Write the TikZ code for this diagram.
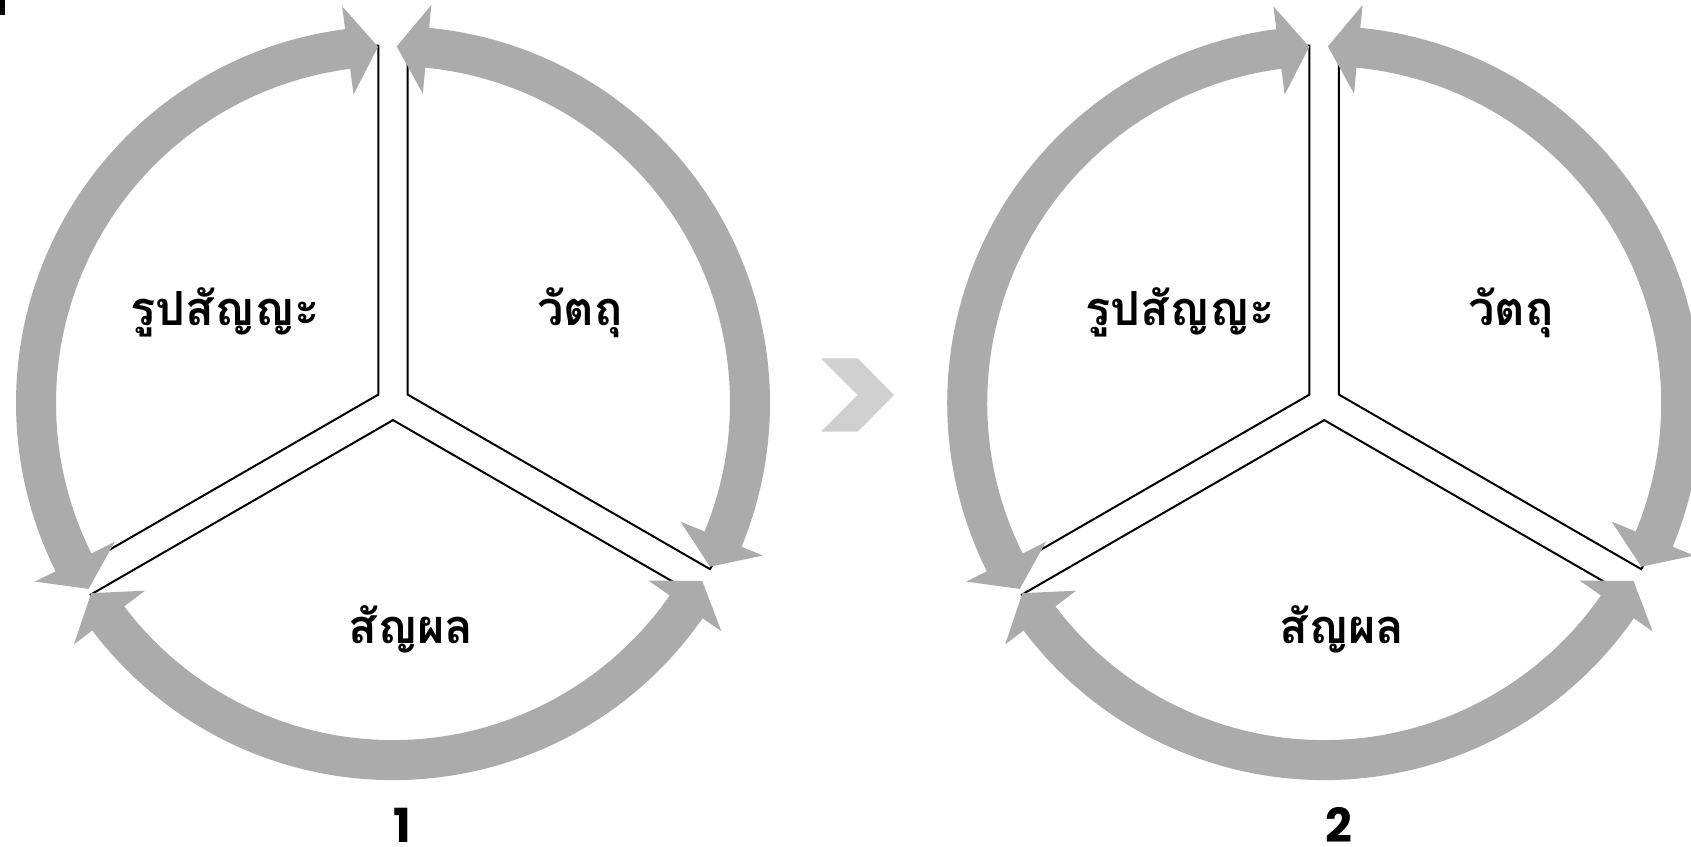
\documentclass[tikz,border=0pt]{standalone}
\usepackage{fontspec}
\newfontfamily\thaifont[Script=Thai]{Loma}
\newfontfamily\digitfont{Poppins}
\definecolor{arrowgray}{RGB}{171,171,171}
\definecolor{chevgray}{RGB}{208,208,208}
\tikzset{
  sectorline/.style={draw=black, line width=2pt, line join=miter, fill=white},
  cyclearrow/.style={fill=arrowgray},
  labeltxt/.style={font=\thaifont\bfseries\fontsize{47}{56}\selectfont, anchor=base, inner sep=0pt},
  numtxt/.style={font=\digitfont\bfseries\fontsize{47}{56}\selectfont, anchor=base, inner sep=0pt},
}
% double-headed circular arrow about the current origin: tip angles #1 < #2
\newcommand\cycarrow[2]{%
  \pgfmathsetmacro\aS{#1+4.9}\pgfmathsetmacro\aE{#2-4.9}%
  \fill[cyclearrow] (\aS:377pt) arc[start angle=\aS,end angle=\aE,radius=377pt]
    -- (\aE:400pt) -- (#2:356.7pt) -- (\aE:311pt) -- (\aE:337pt)
    arc[start angle=\aE,end angle=\aS,radius=337pt]
    -- (\aS:311pt) -- (#1:356.7pt) -- (\aS:400pt) -- cycle;}
% whole cycle diagram: #1 centre x, #2 name prefix, #3 number, #4 x offset of first label, #5 x offset of number
\newcommand\cycdiagram[5]{%
  \begin{scope}[shift={(#1,-403.1)}]
    \coordinate (#2c) at (0,0);
    \draw[sectorline] (150:17pt) -- ++(90:349pt) arc[start angle=90,end angle=210,radius=349pt] -- cycle;
    \draw[sectorline] (30:17pt) -- ++(-30:349pt) arc[start angle=-30,end angle=90,radius=349pt] -- cycle;
    \draw[sectorline] (270:17pt) -- ++(210:349pt) arc[start angle=210,end angle=330,radius=349pt] -- cycle;
    \cycarrow{92.4}{211.4}
    \cycarrow{-27.3}{89.4}
    \cycarrow{212.2}{330.1}
  \end{scope}
  \node[labeltxt] (#2a) at (#1+#4,-325) {รูปสัญญะ};
  \node[labeltxt] (#2b) at (#1+187,-325) {วัตถุ};
  \node[labeltxt] (#2s) at (#1+18,-643.3) {สัญผล};
  \node[numtxt] (#2n) at (#1+#5,-842) {#3};
}
\begin{document}
\begin{tikzpicture}[x=1pt,y=1pt]
  \useasboundingbox (0,0) rectangle (1691,-846);
  \clip (0,0) rectangle (1691,-846);
  \fill[black] (0,0) rectangle (5,-15);
  \cycdiagram{393}{L}{1}{-168}{9}
  \cycdiagram{1324.2}{R}{2}{-144}{15}
  \fill[chevgray] (821,-358.3) -- (857.7,-358.3) -- (894,-395) -- (857.7,-431.7) -- (821,-431.7) -- (857.7,-395) -- cycle;
\end{tikzpicture}
\end{document}
